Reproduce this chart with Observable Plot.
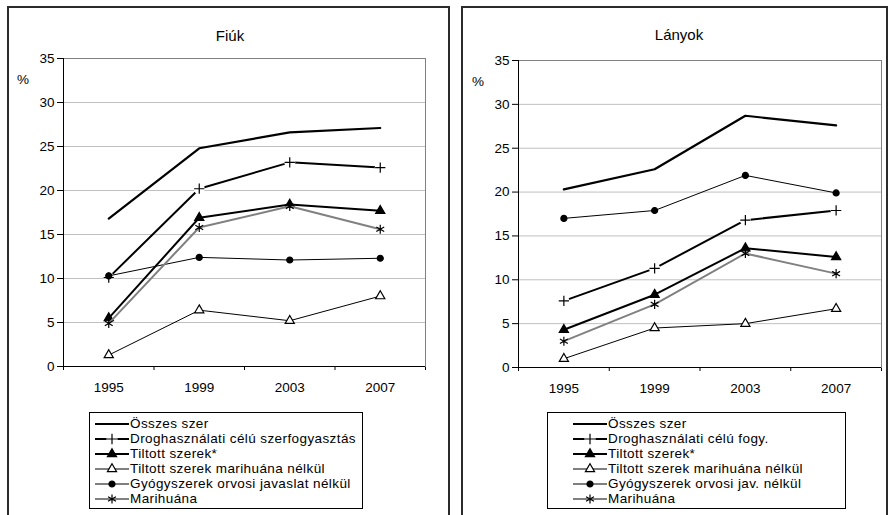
<!DOCTYPE html>
<html><head><meta charset="utf-8">
<script src="https://cdn.jsdelivr.net/npm/d3@7"></script>
<script src="https://cdn.jsdelivr.net/npm/@observablehq/plot@0.6"></script>
<style>
body{margin:0;background:#fff;font-family:"Liberation Sans",Arial,sans-serif;color:#000;}
#page{position:relative;width:892px;height:515px;overflow:hidden;}
.panel{position:absolute;border:2px solid #2b2b2b;box-sizing:border-box;}
.title{position:absolute;font-size:15px;transform:translate(-50%,-50%);white-space:nowrap;}
.pct{position:absolute;font-size:13.5px;transform:translate(-50%,-50%);}
.chart{position:absolute;}
.chart svg text{font-size:13.5px;font-family:"Liberation Sans",Arial,sans-serif;}
.legend{position:absolute;border:1px solid #000;box-sizing:border-box;font-size:13.5px;padding-top:3px;letter-spacing:0.4px;}
.row{display:flex;align-items:center;height:15px;white-space:nowrap;}
.row svg{flex:none;margin-right:1px;}
</style></head><body><div id="page"></div>
<script>
// ---- data ----
const years = [1995, 1999, 2003, 2007];
const yearBounds = [1993, 1997, 2001, 2005, 2009];
const yTicks = [0, 5, 10, 15, 20, 25, 30, 35];

const legendFiuk = ["Összes szer", "Droghasználati célú szerfogyasztás", "Tiltott szerek*", "Tiltott szerek marihuána nélkül", "Gyógyszerek orvosi javaslat nélkül", "Marihuána"];
const legendLanyok = ["Összes szer", "Droghasználati célú fogy.", "Tiltott szerek*", "Tiltott szerek marihuána nélkül", "Gyógyszerek orvosi jav. nélkül", "Marihuána"];

const fiukOsszes   = [16.8, 24.8, 26.6, 27.1];
const fiukDrog     = [10.1, 20.2, 23.2, 22.6];
const fiukTiltott  = [5.5, 16.9, 18.4, 17.7];
const fiukTiltNM   = [1.3, 6.4, 5.2, 8.0];
const fiukGyogy    = [10.3, 12.4, 12.1, 12.3];
const fiukMarih    = [4.9, 15.8, 18.2, 15.6];

const lanyOsszes   = [20.3, 22.6, 28.7, 27.6];
const lanyDrog     = [7.6, 11.3, 16.8, 17.9];
const lanyTiltott  = [4.3, 8.3, 13.6, 12.6];
const lanyTiltNM   = [1.0, 4.5, 5.0, 6.7];
const lanyGyogy    = [17.0, 17.9, 21.9, 19.9];
const lanyMarih    = [3.0, 7.2, 13.0, 10.7];

// ---- styles ----
const styles = [
  {stroke:"#000", width:2.2, symbol:null},
  {stroke:"#000", width:2, symbol:"plus", d3sym:d3.symbolPlus, r:3.4, fill:"none", mstroke:"#000", halo:true},
  {stroke:"#000", width:2, symbol:"triangle", d3sym:d3.symbolTriangle, r:3.4, fill:"#000", mstroke:"#000"},
  {stroke:"#000", width:1, symbol:"triangle", d3sym:d3.symbolTriangle, r:3.4, fill:"#fff", mstroke:"#000"},
  {stroke:"#000", width:1, symbol:"circle", d3sym:d3.symbolCircle, r:3, fill:"#000", mstroke:"#000"},
  {stroke:"#808080", width:2, symbol:"asterisk", d3sym:d3.symbolAsterisk, r:4.3, fill:"none", mstroke:"#000"}
];

const page = document.getElementById("page");
function el(cls, css, html){
  const d = document.createElement("div");
  d.className = cls; Object.assign(d.style, css);
  if (html != null) d.textContent = html;
  page.appendChild(d); return d;
}

function makeChart(valuesList, w, h, m){
  const marks = [
    Plot.ruleY(yTicks.filter(t => t > 0 && t < 35), {stroke:"#c0c0c0"}),
    Plot.frame({stroke:"#808080"}),
    Plot.ruleX([yearBounds[0]], {stroke:"#000"}),
    Plot.ruleY([0], {stroke:"#000"}),
    Plot.text(years, {x:d => d, y:0, text:d => String(d), dy:21, fill:"#000", fontSize:13.5})
  ];
  valuesList.forEach((vals, i) => {
    const s = styles[i];
    const data = years.map((yr, j) => ({year:yr, value:vals[j]}));
    marks.push(Plot.line(data, {x:"year", y:"value", stroke:s.stroke, strokeWidth:s.width}));
    if (s.halo) marks.push(Plot.dot(data, {x:"year", y:"value", r:5.5, fill:"#fff", stroke:null}));
    if (s.symbol) marks.push(Plot.dot(data, {x:"year", y:"value", symbol:()=>s.symbol, r:s.r, fill:s.fill, stroke:s.mstroke, strokeWidth:1.2}));
  });
  return Plot.plot({
    width:w, height:h,
    marginLeft:m[0], marginRight:m[1], marginTop:m[2], marginBottom:m[3],
    x:{type:"linear", domain:[yearBounds[0], yearBounds[yearBounds.length-1]], ticks:yearBounds, tickFormat:()=>"", tickSize:4, label:null},
    y:{domain:[0,35], ticks:yTicks, tickSize:6, tickPadding:3, label:null},
    symbol:{type:"identity"},
    style:{fontFamily:"Liberation Sans, Arial, sans-serif", fontSize:"13.5px", background:"transparent", overflow:"visible", color:"#000"},
    marks
  });
}

function makeLegend(labels, css){
  const box = el("legend", css);
  labels.forEach((lab, i) => {
    const s = styles[i];
    const row = document.createElement("div"); row.className = "row";
    const svg = d3.create("svg").attr("width", 34).attr("height", 14);
    svg.append("line").attr("x1",0).attr("x2",34).attr("y1",7).attr("y2",7).attr("stroke",s.stroke).attr("stroke-width",s.width);
    if (s.halo) svg.append("circle").attr("cx",17).attr("cy",7).attr("r",5.5).attr("fill","#fff");
    if (s.d3sym) svg.append("path").attr("transform","translate(17,7)")
      .attr("d", d3.symbol(s.d3sym, Math.PI*s.r*s.r)()).attr("fill", s.fill).attr("stroke", s.mstroke).attr("stroke-width",1.2);
    row.appendChild(svg.node());
    const t = document.createElement("span"); t.textContent = lab; row.appendChild(t);
    box.appendChild(row);
  });
}

// panels
el("panel", {left:"7px", top:"6px", width:"443px", height:"520px"});
el("panel", {left:"461px", top:"6px", width:"427px", height:"520px"});

// titles
el("title", {left:"230px", top:"35px"}, "Fiúk");
el("title", {left:"679px", top:"34px"}, "Lányok");
el("pct", {left:"23px", top:"79px"}, "%");
el("pct", {left:"478px", top:"81px"}, "%");

// charts
const c1 = el("chart", {left:"10px", top:"40px"});
c1.appendChild(makeChart([fiukOsszes, fiukDrog, fiukTiltott, fiukTiltNM, fiukGyogy, fiukMarih], 436, 360, [53, 21, 18, 34]));
const c2 = el("chart", {left:"464px", top:"40px"});
c2.appendChild(makeChart([lanyOsszes, lanyDrog, lanyTiltott, lanyTiltNM, lanyGyogy, lanyMarih], 420, 360, [54, 3, 20, 33]));

// legends
makeLegend(legendFiuk, {left:"89px", top:"412px", width:"274px", height:"97px", paddingLeft:"5px"});
makeLegend(legendLanyok, {left:"547px", top:"412px", width:"299px", height:"97px", paddingLeft:"25px"});
</script>
</body></html>
